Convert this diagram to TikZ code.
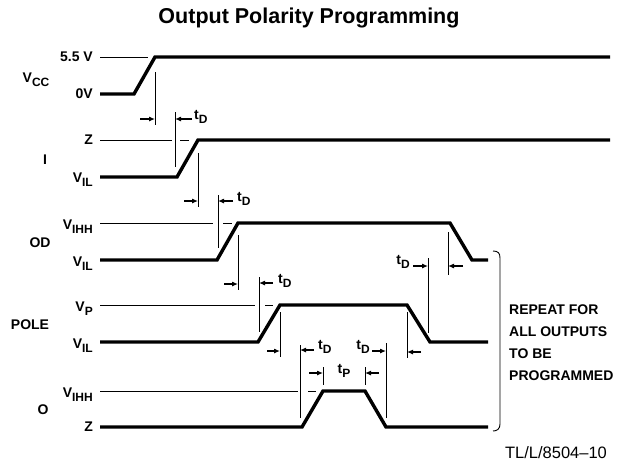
\documentclass[tikz,border=0pt]{standalone}
\usepackage{fontspec}
\setmainfont{Liberation Sans}
\usepackage{tikz}
\usetikzlibrary{arrows.meta,positioning}

\newcommand{\lbl}[2]{#1\raisebox{-0.55ex}{\fontsize{12}{12}\selectfont #2}}

\begin{document}
\begin{tikzpicture}[x=1pt,y=-1pt,
  sig/.style={line width=3.4pt,line join=miter},
  lvl/.style={line width=0.9pt},
  tick/.style={line width=1pt},
  tarr/.style={line width=1.1pt,-{Latex[length=6pt,width=5pt]}},
  txt/.style={font=\fontsize{14}{15}\selectfont\bfseries,inner sep=0pt}]
  \useasboundingbox (0,0) rectangle (617,463);
  % title
  \node[font=\fontsize{21.5}{24}\selectfont\bfseries] (title) at (309,18) {Output Polarity Programming};
  % reference levels
  \draw[lvl] (100,57) -- (148,57);
  \draw[lvl] (100,140) -- (172,140); \draw[lvl] (180,140) -- (189,140);
  \draw[lvl] (100,223) -- (213,223); \draw[lvl] (223,223) -- (232,223);
  \draw[lvl] (100,305) -- (255,305); \draw[lvl] (265,305) -- (273,305);
  \draw[lvl] (100,391) -- (298,391); \draw[lvl] (308,391) -- (316,391);
  % waveforms
  \draw[sig] (100,94) -- (134,94) -- (155,57) -- (610,57);
  \draw[sig] (100,177) -- (177,177) -- (198,140) -- (610,140);
  \draw[sig] (100,260) -- (217,260) -- (238,223) -- (450,223) -- (472,260) -- (488,260);
  \draw[sig] (100,342) -- (258,342) -- (280,305) -- (407,305) -- (430,342) -- (488,342);
  \draw[sig] (100,427) -- (302,427) -- (323,391) -- (365,391) -- (386,427) -- (488,427);
  % signal names
  \node[txt] (vcc) at (36,80) {\lbl{V}{CC}};
  \node[txt] (in) at (45,160) {I};
  \node[txt] (od) at (40,243) {OD};
  \node[txt] (pole) at (30,325) {POLE};
  \node[txt] (out) at (43,410) {O};
  % level names
  \node[txt,anchor=east] (l1) at (93,57) {5.5 V};
  \node[txt,anchor=east] (l2) at (93,94) {0V};
  \node[txt,anchor=east] (l3) at (93,140) {Z};
  \node[txt,anchor=east] (l4) at (93,180) {\lbl{V}{IL}};
  \node[txt,anchor=east] (l5) at (93,227) {\lbl{V}{IHH}};
  \node[txt,anchor=east] (l6) at (93,264) {\lbl{V}{IL}};
  \node[txt,anchor=east] (l7) at (93,309) {\lbl{V}{P}};
  \node[txt,anchor=east] (l8) at (93,346) {\lbl{V}{IL}};
  \node[txt,anchor=east] (l9) at (93,395) {\lbl{V}{IHH}};
  \node[txt,anchor=east] (l10) at (93,427) {Z};
  % delays
  \draw[tick] (155,72) -- (155,125); \draw[tarr] (140,119) -- (155,119);
  \draw[tick] (175,112) -- (175,167); \draw[tarr] (192,119) -- (175,119);
  \node[txt,anchor=west] (td1) at (194,117) {\lbl{t}{D}};
  \draw[tick] (198,153) -- (198,207); \draw[tarr] (184,201) -- (198,201);
  \draw[tick] (218,195) -- (218,248); \draw[tarr] (233,201) -- (218,201);
  \node[txt,anchor=west] (td2) at (237,199) {\lbl{t}{D}};
  \draw[tick] (238,235) -- (238,290); \draw[tarr] (224,284) -- (238,284);
  \draw[tick] (259,277) -- (259,332); \draw[tarr] (273,283) -- (259,283);
  \node[txt,anchor=west] (td3) at (278,281) {\lbl{t}{D}};
  \draw[tick] (280,312) -- (280,357); \draw[tarr] (267,351) -- (280,351);
  \draw[tick] (300,345) -- (300,418); \draw[tarr] (314,350) -- (300,350);
  \node[txt,anchor=west] (td4) at (318,347) {\lbl{t}{D}};
  \draw[tick] (386,343) -- (386,418); \draw[tarr] (372,351) -- (386,351);
  \node[txt,anchor=east] (td5) at (370,347) {\lbl{t}{D}};
  \draw[tick] (323,367) -- (323,385); \draw[tarr] (309,373) -- (323,373);
  \draw[tick] (365,367) -- (365,385); \draw[tarr] (379,373) -- (365,373);
  \node[txt] (tp) at (344,371) {\lbl{t}{P}};
  \draw[tick] (448,232) -- (448,275); \draw[tarr] (463,266) -- (448,266);
  \draw[tick] (428,258) -- (428,333); \draw[tarr] (413,266) -- (428,266);
  \node[txt,anchor=east] (td6) at (410,262) {\lbl{t}{D}};
  \draw[tick] (407,312) -- (407,358); \draw[tarr] (421,352) -- (407,352);
  % repeat bracket
  \draw[lvl] (493,251) .. controls (498,251) and (500,253) .. (500,258) -- (500,424) .. controls (500,429) and (497,431) .. (493,431);
  \node[anchor=west,align=left,inner sep=0pt,font=\fontsize{14}{22}\selectfont\bfseries] (rep) at (509,343) {REPEAT FOR\\ALL OUTPUTS\\TO BE\\PROGRAMMED};
  \node[inner sep=0pt,font=\fontsize{16.5}{18}\selectfont] (ref) at (556,453) {TL/L/8504--10};
\end{tikzpicture}
\end{document}
